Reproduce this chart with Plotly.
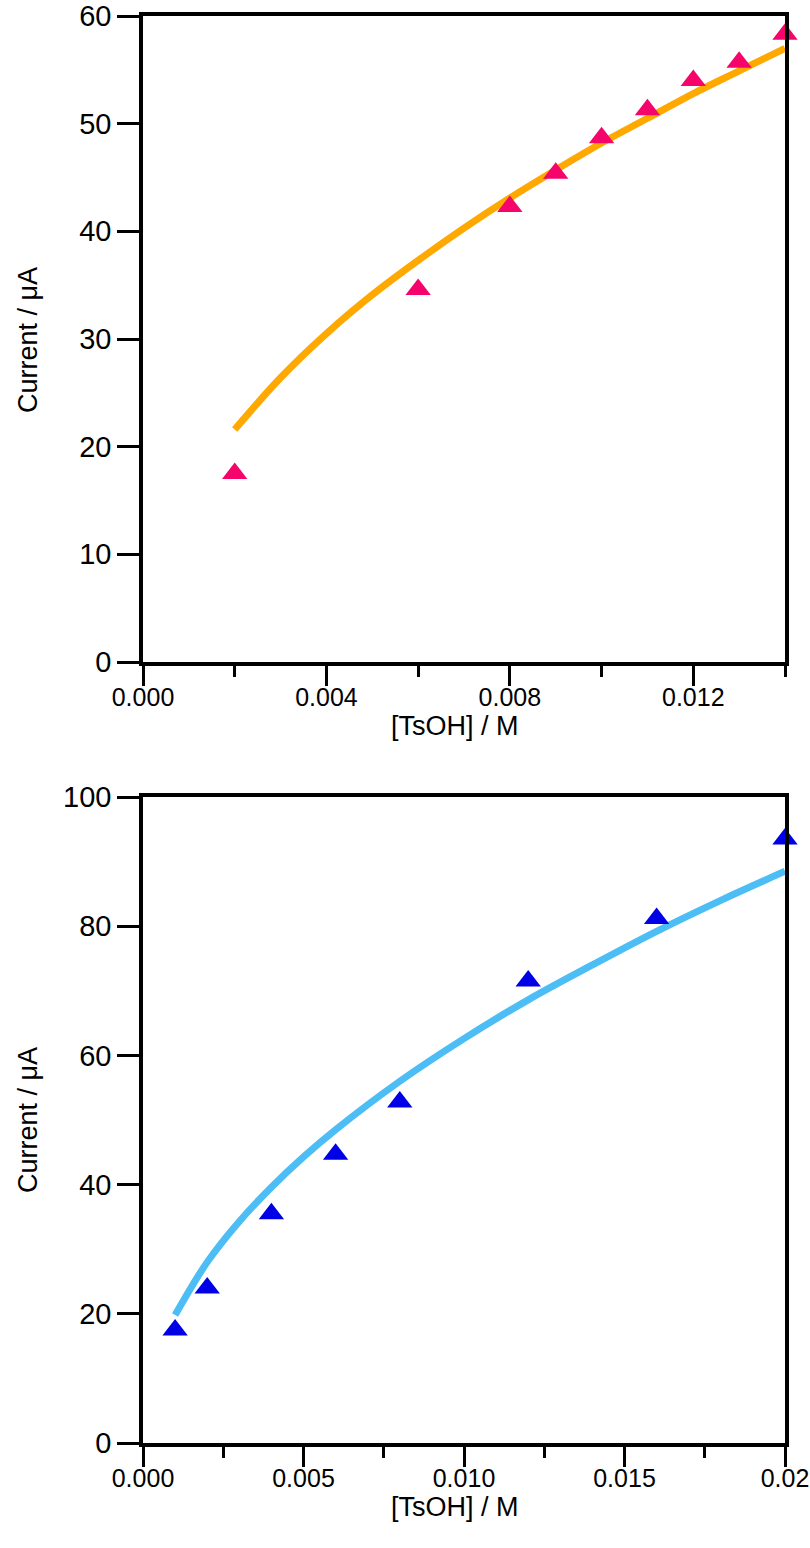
import plotly.graph_objects as go

# ---- data: top panel ----
top_x = [0.002, 0.006, 0.008, 0.009, 0.010, 0.011, 0.012, 0.013, 0.014]
top_y = [17.5, 34.6, 42.3, 45.4, 48.7, 51.3, 54.0, 55.7, 58.3]
top_fit_x = [0.002, 0.003, 0.004, 0.005, 0.006, 0.007, 0.008, 0.009, 0.010, 0.011, 0.012, 0.013, 0.014]
top_fit_y = [21.6, 26.4, 30.5, 34.1, 37.3, 40.3, 43.1, 45.7, 48.2, 50.5, 52.8, 54.9, 57.0]
top_xticks = [0.000, 0.004, 0.008, 0.012]
top_xticktext = ["0.000", "0.004", "0.008", "0.012"]
top_xminor = [0.002, 0.006, 0.010, 0.014]
top_yticks = [0, 10, 20, 30, 40, 50, 60]

# ---- data: bottom panel ----
bot_x = [0.001, 0.002, 0.004, 0.006, 0.008, 0.012, 0.016, 0.020]
bot_y = [17.5, 24.0, 35.5, 44.7, 52.8, 71.5, 81.2, 93.5]
bot_fit_x = [0.001, 0.002, 0.003, 0.004, 0.005, 0.006, 0.008, 0.010, 0.012, 0.014, 0.016, 0.018, 0.020]
bot_fit_y = [19.8, 28.0, 34.3, 39.6, 44.3, 48.5, 56.0, 62.6, 68.6, 74.0, 79.2, 84.0, 88.5]
bot_xticks = [0.000, 0.005, 0.010, 0.015, 0.020]
bot_xticktext = ["0.000", "0.005", "0.010", "0.015", "0.02"]
bot_xminor = [0.0025, 0.0075, 0.0125, 0.0175]
bot_yticks = [0, 20, 40, 60, 80, 100]

W, H = 810, 1548
TICKFONT_Y = dict(family="Liberation Sans, Arial", size=29, color="black")
TICKFONT_X = dict(family="Liberation Sans, Arial", size=25, color="black")
TITLEFONT = dict(family="Liberation Sans, Arial", size=27, color="black")

fig = go.Figure()

fig.add_trace(go.Scatter(x=top_fit_x, y=top_fit_y, mode="lines", line=dict(color="#FFA800", width=7, shape="spline"),
                         xaxis="x", yaxis="y", cliponaxis=False, showlegend=False, hoverinfo="skip"))
fig.add_trace(go.Scatter(x=top_x, y=top_y, mode="markers",
                         marker=dict(symbol="triangle-up", size=22, color="#F5056B"),
                         xaxis="x", yaxis="y", cliponaxis=False, showlegend=False))
fig.add_trace(go.Scatter(x=bot_fit_x, y=bot_fit_y, mode="lines", line=dict(color="#4DBEF5", width=7, shape="spline"),
                         xaxis="x2", yaxis="y2", cliponaxis=False, showlegend=False, hoverinfo="skip"))
fig.add_trace(go.Scatter(x=bot_x, y=bot_y, mode="markers",
                         marker=dict(symbol="triangle-up", size=22, color="#0000E6"),
                         xaxis="x2", yaxis="y2", cliponaxis=False, showlegend=False))

xl, xr = 143 / W, 785 / W
top_dom = [1 - 662 / H, 1 - 16 / H]
bot_dom = [1 - 1443 / H, 1 - 797 / H]

axis_common = dict(showline=True, linecolor="black", linewidth=3.5, mirror=True, showgrid=False,
                   zeroline=False, ticks="outside", tickwidth=3, tickcolor="black",
                   automargin=False, fixedrange=True)
xaxis_extra = dict(ticklen=20, ticklabelstandoff=-10, ticklabeloverflow="allow")
yaxis_extra = dict(ticklen=22)

fig.update_layout(
    width=W, height=H, margin=dict(l=0, r=0, t=0, b=0, pad=0, autoexpand=False),
    plot_bgcolor="white", paper_bgcolor="white",
    xaxis=dict(domain=[xl, xr], anchor="y", range=[0, 0.014], tickvals=top_xticks, ticktext=top_xticktext,
               tickfont=TICKFONT_X,
               minor=dict(tickvals=top_xminor, ticks="outside", ticklen=11, tickwidth=3, tickcolor="black"),
               **axis_common, **xaxis_extra),
    yaxis=dict(domain=top_dom, anchor="x", range=[0, 60], tickvals=top_yticks, tickfont=TICKFONT_Y,
               **axis_common, **yaxis_extra),
    xaxis2=dict(domain=[xl, xr], anchor="y2", range=[0, 0.020], tickvals=bot_xticks, ticktext=bot_xticktext,
                tickfont=TICKFONT_X,
                minor=dict(tickvals=bot_xminor, ticks="outside", ticklen=11, tickwidth=3, tickcolor="black"),
                **axis_common, **xaxis_extra),
    yaxis2=dict(domain=bot_dom, anchor="x2", range=[0, 100], tickvals=bot_yticks, tickfont=TICKFONT_Y,
                **axis_common, **yaxis_extra),
    annotations=[
        dict(text="[TsOH] / M", xref="paper", yref="paper", x=455 / W, y=1 - 726 / H, showarrow=False,
             font=TITLEFONT, xanchor="center", yanchor="middle"),
        dict(text="Current / μA", xref="paper", yref="paper", x=28 / W, y=1 - 340 / H, showarrow=False,
             font=TITLEFONT, textangle=-90, xanchor="center", yanchor="middle"),
        dict(text="[TsOH] / M", xref="paper", yref="paper", x=455 / W, y=1 - 1507 / H, showarrow=False,
             font=TITLEFONT, xanchor="center", yanchor="middle"),
        dict(text="Current / μA", xref="paper", yref="paper", x=28 / W, y=1 - 1120 / H, showarrow=False,
             font=TITLEFONT, textangle=-90, xanchor="center", yanchor="middle"),
    ],
)

fig.write_html("out.html", config={"displayModeBar": False},
               post_script="document.body.style.margin='0';document.body.style.overflow='hidden';")
